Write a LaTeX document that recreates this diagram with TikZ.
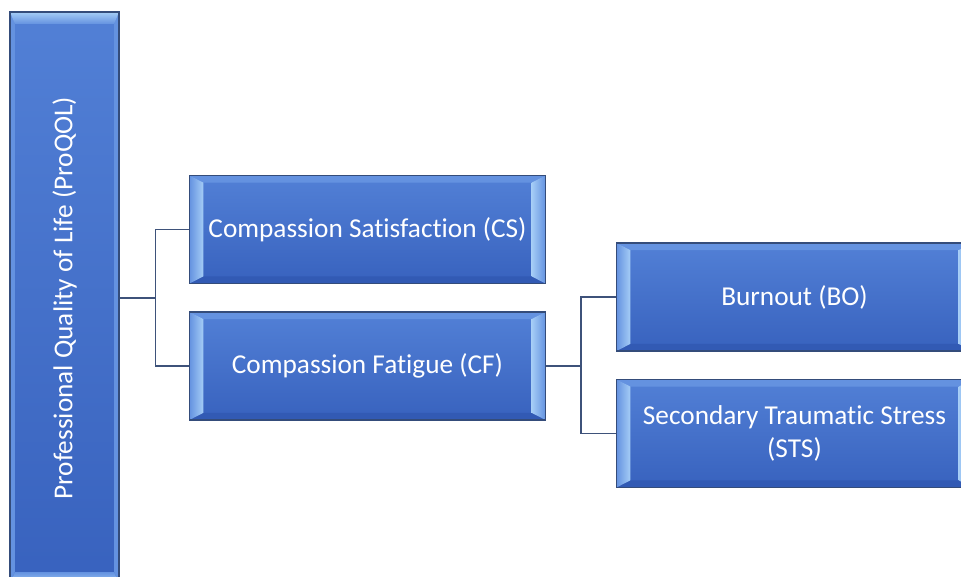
\documentclass[tikz,border=0pt]{standalone}
\usepackage{fontspec}
\setmainfont{Carlito}[Ligatures={NoCommon,NoContextual}]
\usetikzlibrary{positioning}

\definecolor{boxtop}{RGB}{82,128,214}
\definecolor{boxbot}{RGB}{56,98,190}
\definecolor{boxline}{RGB}{52,76,122}
\definecolor{bevlight}{RGB}{165,205,246}
\definecolor{bevmid}{RGB}{100,146,224}
\definecolor{bevdark}{RGB}{50,90,180}
\definecolor{linkcol}{RGB}{62,82,122}

\begin{document}
\begin{tikzpicture}[x=0.025cm,y=-0.025cm,
    box/.style={draw=boxline,line width=1pt,top color=boxtop,bottom color=boxbot,
                text=white,font=\fontsize{19.4}{23.4}\selectfont,align=center,inner sep=0pt},
    hbevel/.style={path picture={
        \path (path picture bounding box.north west) coordinate (a)
              (path picture bounding box.north east) coordinate (b)
              (path picture bounding box.south east) coordinate (c)
              (path picture bounding box.south west) coordinate (d);
        \fill[bevmid] (a) -- (b) -- ([shift={(-0.35cm,-0.18cm)}]b) -- ([shift={(0.35cm,-0.18cm)}]a) -- cycle;
        \fill[bevdark] (d) -- (c) -- ([shift={(-0.35cm,0.18cm)}]c) -- ([shift={(0.35cm,0.18cm)}]d) -- cycle;
        \shade[left color=bevmid,right color=bevlight] (a) -- ([shift={(0.35cm,-0.18cm)}]a)
              -- ([shift={(0.35cm,0.18cm)}]d) -- (d) -- cycle;
        \shade[left color=bevlight,right color=bevmid] (b) -- ([shift={(-0.35cm,-0.18cm)}]b)
              -- ([shift={(-0.35cm,0.18cm)}]c) -- (c) -- cycle;
      }},
    vbevel/.style={path picture={
        \path (path picture bounding box.north west) coordinate (a)
              (path picture bounding box.north east) coordinate (b)
              (path picture bounding box.south east) coordinate (c)
              (path picture bounding box.south west) coordinate (d);
        \fill[bevmid] (a) -- (d) -- ([shift={(0.12cm,0.3cm)}]d) -- ([shift={(0.12cm,-0.3cm)}]a) -- cycle;
        \fill[bevmid] (b) -- (c) -- ([shift={(-0.12cm,0.3cm)}]c) -- ([shift={(-0.12cm,-0.3cm)}]b) -- cycle;
        \shade[top color=bevlight,bottom color=bevmid] (a) -- (b) -- ([shift={(-0.12cm,-0.3cm)}]b)
              -- ([shift={(0.12cm,-0.3cm)}]a) -- cycle;
        \shade[top color=bevmid,bottom color=bevlight] (d) -- (c) -- ([shift={(-0.12cm,0.3cm)}]c)
              -- ([shift={(0.12cm,0.3cm)}]d) -- cycle;
      }},
    hbox/.style={box,hbevel,minimum width=8.9cm,minimum height=2.7cm},
    vbox/.style={box,vbevel,minimum width=2.725cm,minimum height=14.3cm},
    link/.style={draw=linkcol,line width=1.1pt}]

  \useasboundingbox (0,0) rectangle (961,577);

  \node[vbox] (proqol) at (64.5,298)
       [label={[rotate=90,text=white,font=\fontsize{19.4}{23.4}\selectfont]center:Professional Quality of Life (ProQOL)}] {};

  \node[hbox]                      (cs)  at (367.5,229.5) {Compassion Satisfaction (CS)};
  \node[hbox,below=0.675cm of cs]  (cf)                   {Compassion Fatigue (CF)};
  \node[hbox]                      (bo)  at (794.5,297)   {Burnout (BO)};
  \node[hbox,below=0.675cm of bo]  (sts)                  {Secondary Traumatic Stress\\(STS)};

  \draw[link] (proqol.east) -- ++(36,0) coordinate (j1) |- (cs.west);
  \draw[link] (j1) |- (cf.west);
  \draw[link] (cf.east) -- ++(35,0) coordinate (j2) |- (bo.west);
  \draw[link] (j2) |- (sts.west);

\end{tikzpicture}
\end{document}
